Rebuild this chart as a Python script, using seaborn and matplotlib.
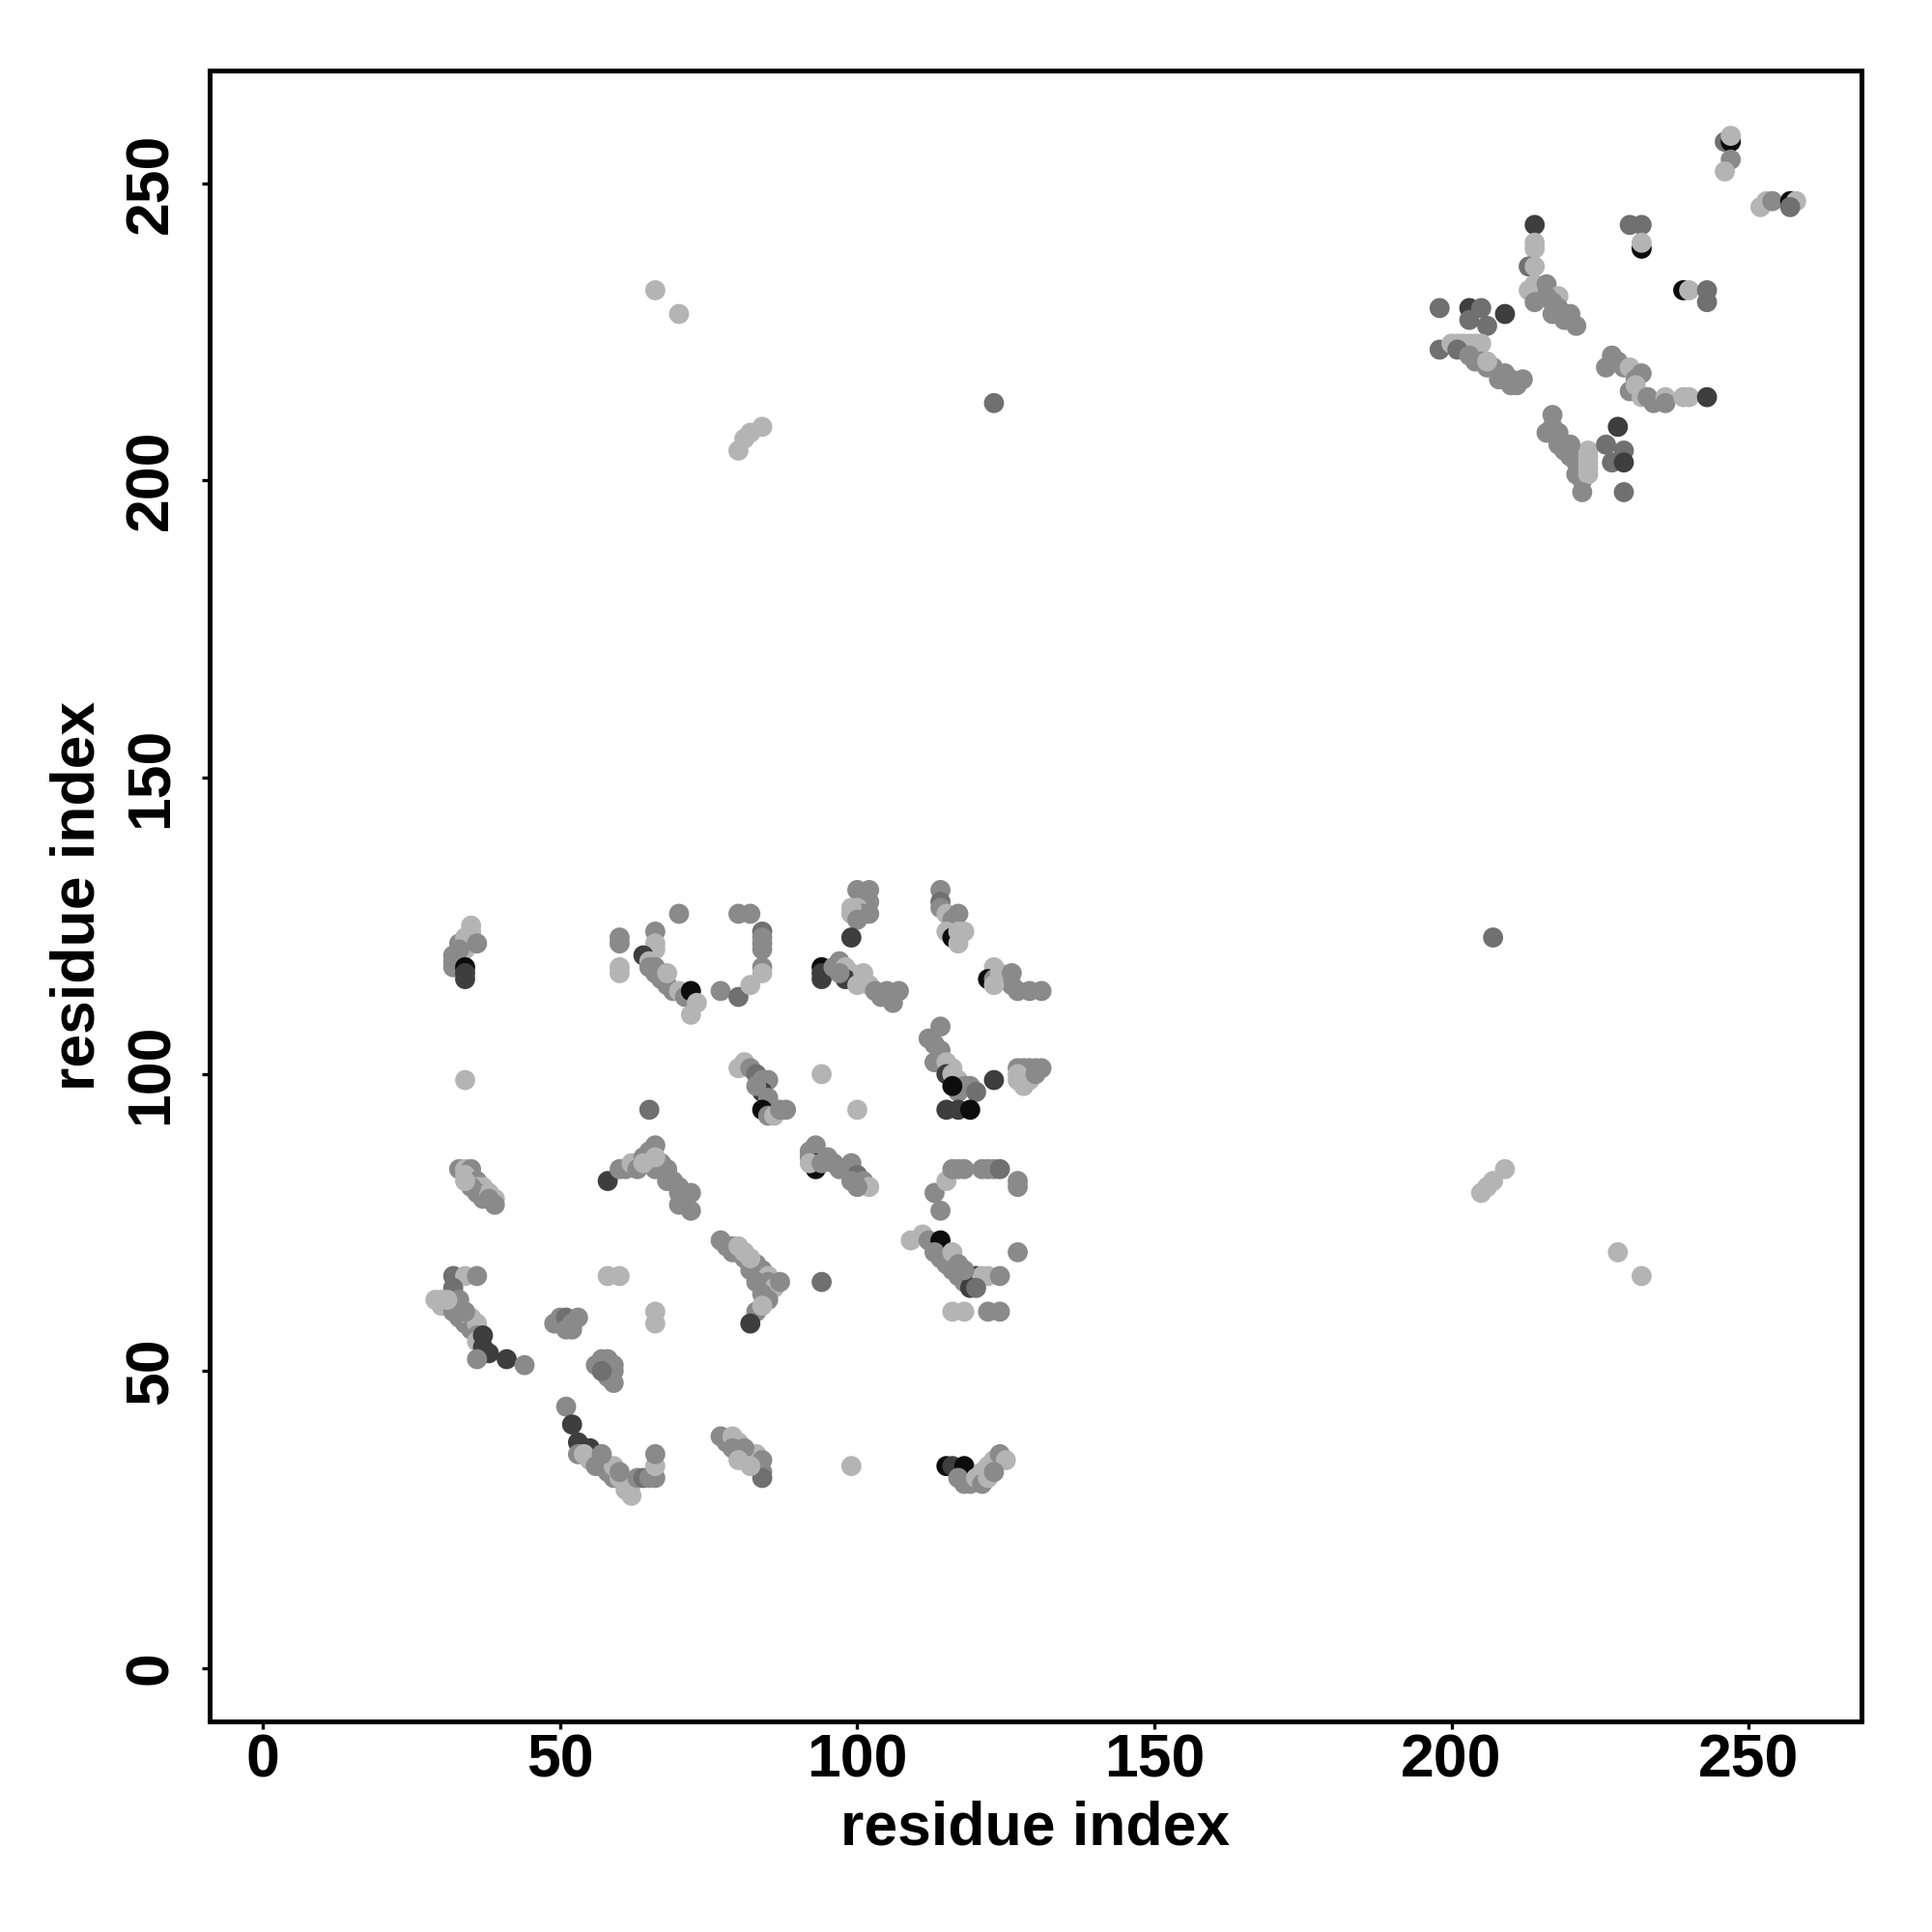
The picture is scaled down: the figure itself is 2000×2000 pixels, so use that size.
import pandas as pd
import numpy as np
import matplotlib
matplotlib.use('Agg')
import matplotlib.pyplot as plt
import seaborn as sns

# contacts as (residue i, residue j, shade level); shade 0 = black ... 4 = light grey
domain1_contacts = [
    # helix around 30-37 x 115-126
    (32, 120, 3), (32, 118, 3), (33, 122, 3), (33, 119, 4), (34, 121, 4), (34, 123, 4),
    (35, 124, 4), (35, 125, 4), (36, 122, 3), (33, 121, 3), (32, 119, 3),
    (34, 118, 0), (34, 117, 1), (34, 116, 1), (34, 99, 4),
    # 60-80 x 109-127
    (60, 123, 3), (60, 122, 3), (60, 118, 4), (60, 117, 4), (66, 124, 3), (66, 122, 4),
    (66, 121, 4), (64, 120, 1), (65, 119, 4), (70, 127, 3), (65, 118, 3), (66, 117, 3),
    (67, 116, 3), (68, 115, 3), (69, 114, 3), (70, 114, 4), (71, 113, 3), (72, 114, 0),
    (73, 112, 4), (72, 110, 4), (66, 118, 3), (68, 117, 4), (77, 114, 3), (80, 113, 2),
    (80, 127, 3), (82, 127, 3), (84, 124, 2), (84, 123, 3), (84, 122, 3), (84, 121, 3),
    (84, 118, 3), (84, 117, 4), (82, 115, 4),
    # 94-108 x 112-131
    (100, 131, 3), (101, 130, 3), (102, 129, 3), (100, 128, 4), (101, 127, 3), (102, 127, 3),
    (99, 127, 4), (99, 128, 4), (100, 126, 3), (102, 131, 3), (99, 123, 1),
    (94, 118, 0), (94, 117, 1), (94, 116, 1), (96, 118, 3), (97, 119, 3), (98, 118, 4),
    (99, 117, 4), (100, 116, 4), (101, 116, 4), (102, 115, 4), (98, 116, 1), (100, 115, 4),
    (103, 114, 3), (104, 113, 3), (105, 114, 3), (107, 114, 3), (106, 112, 3),
    (101, 117, 4), (97, 117, 3),
    # 114-132 x 112-131
    (114, 131, 3), (114, 129, 2), (114, 128, 3), (115, 127, 4), (116, 126, 3), (117, 127, 3),
    (115, 124, 4), (116, 123, 0), (117, 124, 4), (118, 124, 4), (117, 122, 4),
    (123, 118, 4), (122, 116, 0), (123, 116, 3), (124, 117, 4), (126, 117, 3), (126, 115, 3),
    (127, 114, 3), (129, 114, 3), (131, 114, 3), (123, 115, 4),
    # 112-133 x 93-108
    (114, 108, 3), (112, 106, 3), (113, 105, 3), (114, 104, 3), (113, 102, 3), (115, 102, 4),
    (116, 101, 4), (115, 100, 1), (116, 100, 4), (117, 99, 4), (118, 98, 3), (117, 97, 3),
    (119, 98, 3), (120, 97, 2), (116, 98, 0), (123, 99, 1), (115, 94, 1), (117, 94, 1),
    (119, 94, 0),
    (127, 101, 3), (128, 101, 3), (129, 101, 3), (130, 101, 3), (131, 101, 3), (127, 99, 4),
    (128, 98, 4), (127, 100, 4), (129, 99, 4), (130, 100, 3),
    # 79-89 x 92-103
    (80, 101, 4), (81, 102, 4), (82, 101, 3), (83, 100, 2), (84, 99, 3), (85, 99, 3),
    (84, 97, 1), (85, 96, 3), (85, 95, 3), (86, 94, 3), (84, 94, 0), (85, 93, 3),
    (86, 93, 4), (87, 94, 3), (88, 94, 3), (83, 98, 3), (94, 100, 4), (100, 94, 4),
    # 92-103 x 80-89
    (92, 87, 3), (93, 88, 3), (92, 86, 3), (93, 85, 1), (93, 84, 0), (92, 85, 4),
    (94, 85, 3), (95, 86, 3), (96, 85, 3), (97, 84, 3), (98, 84, 3), (99, 85, 3),
    (100, 83, 2), (101, 82, 3), (102, 81, 4), (100, 81, 3), (99, 82, 3),
    # 112-127 x 77-85
    (113, 80, 3), (114, 77, 3), (115, 82, 4), (116, 84, 3), (117, 84, 3), (118, 84, 3),
    (121, 84, 3), (122, 84, 3), (123, 84, 3), (124, 84, 2), (127, 81, 3), (127, 82, 3),
    # 33-40 x 78-85
    (33, 84, 3), (34, 84, 4), (35, 84, 3), (34, 83, 4), (35, 82, 4), (36, 82, 3),
    (36, 81, 4), (37, 81, 4), (36, 80, 3), (37, 79, 3), (38, 80, 4), (39, 79, 4),
    (39, 78, 3), (38, 79, 3), (35, 81, 3), (34, 82, 4),
    # 56-72 x 76-94
    (58, 82, 1), (60, 84, 3), (61, 84, 3), (62, 85, 4), (63, 84, 3), (64, 86, 3),
    (65, 87, 3), (65, 85, 3), (66, 84, 3), (66, 88, 3), (67, 85, 3), (68, 84, 3),
    (68, 82, 3), (69, 82, 3), (70, 81, 3), (70, 80, 3), (71, 79, 3), (71, 78, 3),
    (72, 77, 3), (70, 78, 3), (72, 80, 3), (66, 86, 4), (65, 94, 2), (64, 85, 4),
    # 77-94 x 58-73
    (77, 72, 3), (78, 71, 3), (79, 71, 3), (79, 70, 3), (80, 70, 3), (81, 69, 3),
    (80, 71, 4), (81, 70, 4), (82, 68, 3), (82, 67, 3), (83, 68, 3), (84, 66, 3),
    (84, 67, 3), (85, 66, 4), (85, 65, 3), (86, 64, 4), (84, 63, 3), (85, 62, 3),
    (83, 60, 3), (84, 61, 4), (87, 65, 3), (82, 58, 1), (94, 65, 2), (82, 69, 4),
    (83, 65, 3),
    # 109-127 x 60-73
    (109, 72, 4), (111, 73, 4), (112, 72, 3), (113, 71, 3), (114, 72, 0), (113, 70, 3),
    (114, 69, 3), (115, 68, 3), (116, 70, 4), (116, 67, 3), (117, 66, 3), (118, 65, 3),
    (119, 66, 2), (120, 66, 1), (121, 66, 4), (119, 64, 1), (122, 66, 4), (124, 66, 3),
    (117, 68, 3), (118, 67, 3), (120, 64, 2), (127, 70, 3), (116, 60, 4), (118, 60, 4),
    (122, 60, 3), (124, 60, 3),
    # 28-44 x 51-66
    (32, 66, 2), (34, 66, 4), (36, 66, 3), (32, 64, 2), (29, 62, 4), (30, 62, 4),
    (31, 61, 4), (30, 61, 4), (32, 60, 3), (33, 59, 3), (34, 58, 3), (35, 59, 4),
    (35, 57, 3), (36, 58, 4), (36, 56, 3), (36, 55, 4), (37, 56, 1), (37, 54, 1),
    (38, 53, 1), (36, 52, 3), (41, 52, 1), (44, 51, 3), (33, 62, 3), (34, 60, 3),
    (31, 62, 4),
    # 49-66 x 48-66
    (49, 58, 3), (50, 59, 3), (51, 59, 2), (52, 58, 3), (53, 59, 3), (52, 57, 3),
    (51, 57, 3), (58, 66, 4), (60, 66, 4), (66, 60, 4), (66, 58, 4),
    (56, 51, 3), (57, 52, 3), (58, 52, 3), (59, 51, 3), (59, 50, 3), (58, 49, 3),
    (59, 48, 3), (57, 50, 2),
    # 51-66 x 28-44
    (51, 44, 3), (52, 41, 1), (53, 38, 1), (55, 37, 1), (53, 36, 3), (54, 36, 4),
    (55, 35, 4), (56, 34, 3), (57, 34, 3), (58, 33, 3), (59, 32, 3), (59, 34, 4),
    (60, 32, 4), (61, 31, 4), (61, 30, 4), (62, 29, 4), (62, 31, 4), (63, 32, 3),
    (64, 32, 2), (65, 32, 3), (66, 32, 3), (66, 34, 4), (66, 36, 3), (60, 33, 3),
    (57, 36, 3),
    # 77-99 x 31-40
    (77, 39, 3), (78, 38, 3), (79, 39, 4), (80, 38, 4), (80, 37, 4), (81, 36, 4),
    (82, 35, 4), (83, 36, 4), (84, 35, 3), (84, 33, 3), (84, 32, 2), (81, 37, 3),
    (79, 37, 3), (80, 35, 4), (82, 34, 4), (99, 34, 4),
    # 114-127 x 30-37
    (115, 34, 0), (116, 34, 1), (118, 34, 0), (117, 32, 3), (118, 31, 3), (119, 31, 3),
    (120, 32, 4), (121, 33, 4), (122, 34, 4), (123, 35, 4), (124, 36, 3), (125, 35, 4),
    (121, 31, 3), (122, 32, 4), (123, 33, 3),
]

domain2_contacts = [
    (198, 229, 2), (203, 229, 1), (205, 229, 2), (203, 227, 2), (206, 226, 2), (209, 228, 1),
    (198, 222, 2), (200, 223, 4), (201, 223, 4), (202, 223, 4), (203, 223, 4), (204, 223, 4),
    (205, 223, 4), (201, 222, 2), (203, 221, 3), (204, 220, 3), (205, 220, 3), (206, 219, 3),
    (207, 219, 3), (208, 218, 3), (209, 218, 3), (210, 217, 3), (211, 216, 3), (212, 217, 3),
    (206, 220, 4), (208, 217, 3), (210, 216, 3),
    (214, 243, 1), (214, 240, 4), (214, 239, 4), (213, 236, 2), (214, 236, 4), (213, 232, 4),
    (214, 233, 4), (216, 233, 3), (214, 230, 3), (218, 231, 4), (216, 231, 3), (217, 230, 3),
    (218, 229, 3), (219, 228, 3), (220, 227, 3), (221, 226, 3), (219, 227, 3), (217, 228, 3),
    (220, 228, 3),
    (217, 211, 3), (217, 209, 3), (216, 208, 3), (218, 208, 3), (218, 206, 3), (219, 206, 3),
    (219, 205, 3), (220, 204, 3), (221, 203, 3), (221, 201, 3), (222, 200, 3), (223, 205, 4),
    (223, 204, 4), (223, 203, 4), (223, 202, 4), (223, 201, 4), (222, 198, 3), (220, 206, 3),
    (228, 209, 1), (226, 206, 2), (227, 203, 2), (229, 205, 2), (229, 203, 1), (229, 198, 2),
    (227, 221, 3), (226, 219, 3), (228, 220, 3), (229, 219, 3), (230, 219, 4), (231, 217, 3),
    (232, 218, 3), (230, 215, 3), (231, 216, 4), (232, 214, 4), (233, 214, 3), (234, 213, 3),
    (236, 214, 4), (236, 213, 3), (239, 214, 4), (240, 214, 4), (243, 214, 1),
    (230, 243, 2), (232, 243, 2), (232, 239, 0), (232, 240, 4), (239, 232, 0), (240, 232, 4),
    (243, 232, 2), (243, 230, 2),
    (246, 257, 2), (247, 257, 0), (247, 258, 4), (247, 254, 3), (246, 252, 4),
    (252, 246, 4), (253, 247, 4), (254, 247, 3), (257, 247, 0), (258, 247, 4), (257, 246, 2),
]

inter_contacts = [
    (66, 232, 4), (70, 228, 4), (80, 205, 4), (81, 207, 4), (82, 208, 4), (84, 209, 4),
    (123, 213, 2), (207, 123, 2), (205, 80, 4), (206, 81, 4), (207, 82, 4), (209, 84, 4),
    (228, 70, 4), (232, 66, 4),
]

shade_colors = {0: '#0c0c0c', 1: '#3e3e3e', 2: '#707070', 3: '#8a8a8a', 4: '#b4b4b4'}
tick_vals = [0, 50, 100, 150, 200, 250]

df = pd.DataFrame(domain1_contacts + domain2_contacts + inter_contacts,
                  columns=['i', 'j', 'shade'])

sns.set_style('white')
plt.rcParams['font.family'] = ['Liberation Sans', 'DejaVu Sans']
plt.rcParams['font.weight'] = 'bold'
plt.rcParams['text.color'] = 'black'
plt.rcParams['axes.labelcolor'] = 'black'
plt.rcParams['xtick.color'] = 'black'
plt.rcParams['ytick.color'] = 'black'

fig = plt.figure(figsize=(10, 10), dpi=200)
ax = fig.add_axes([0.1085, 0.109, 0.855, 0.8545])

sns.scatterplot(data=df, x='i', y='j', hue='shade', palette=shade_colors,
                s=56, linewidth=0, legend=False, ax=ax)

ax.set_xlim(-9, 269)
ax.set_ylim(-9, 269)
ax.set_xticks(tick_vals)
ax.set_yticks(tick_vals)
ax.set_yticklabels(tick_vals, rotation=90, va='center')
ax.tick_params(axis='both', direction='out', length=3, width=1.2, labelsize=22.5,
               left=True, bottom=True, colors='black')
ax.tick_params(axis='x', pad=1)
ax.tick_params(axis='y', pad=8)
for sp in ax.spines.values():
    sp.set_linewidth(1.8)
    sp.set_color('black')
ax.set_xlabel('residue index', fontsize=22.5, fontweight='bold', labelpad=4, color='black')
ax.set_ylabel('residue index', fontsize=22.5, fontweight='bold', labelpad=6, color='black')

plt.savefig('out.png', dpi=200)
